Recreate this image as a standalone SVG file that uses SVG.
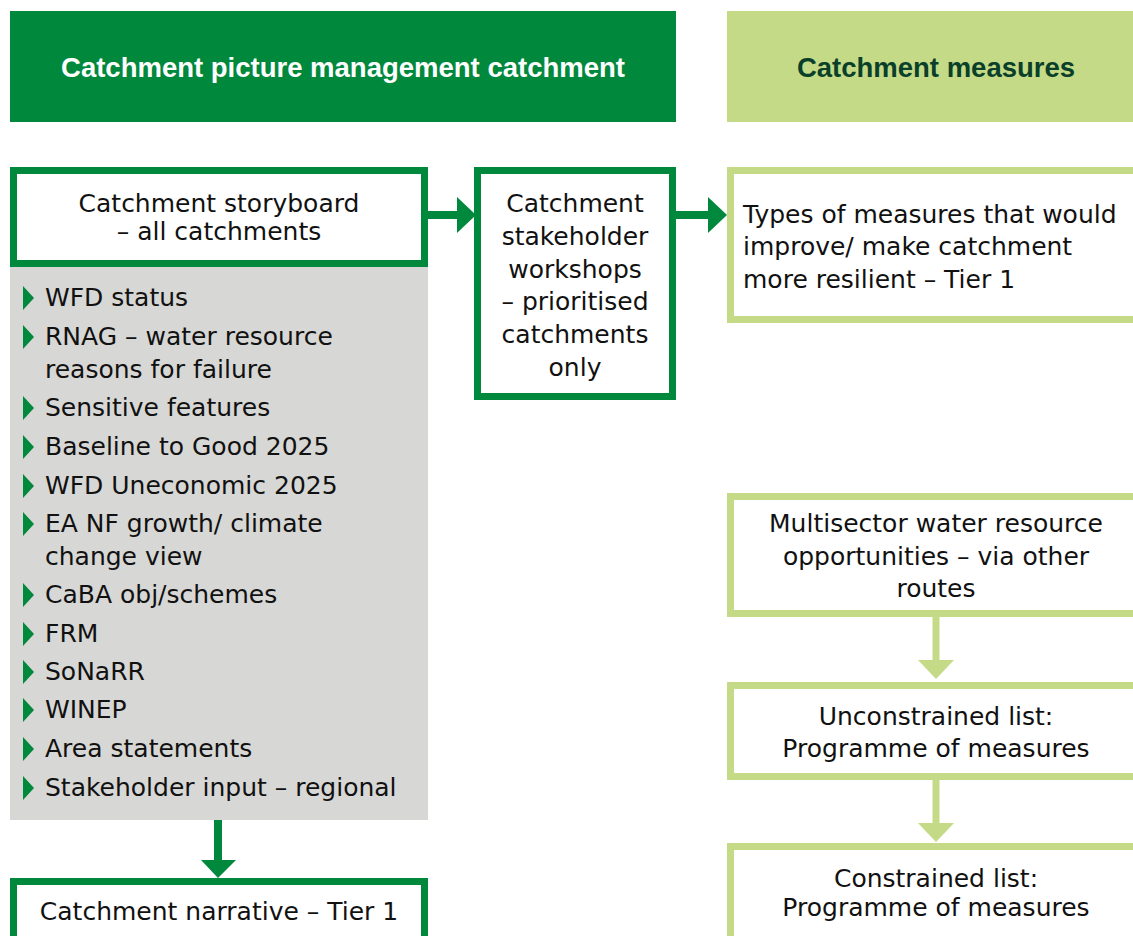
<svg xmlns="http://www.w3.org/2000/svg" width="1133" height="936" viewBox="0 0 1133 936">
<style>
.hdr{font-family:"Liberation Sans",Arial,sans-serif;font-weight:bold;font-size:27.5px;text-anchor:middle}
.t{font-family:"DejaVu Sans",sans-serif;font-size:25px;fill:#111}
.c{text-anchor:middle}
.dg{fill:none;stroke:#00893d;stroke-width:7}
.lg{fill:none;stroke:#c5da87;stroke-width:7}
.bul{fill:#00893d}
</style>
<rect width="1133" height="936" fill="#ffffff"/>
<g id="header-left">
<rect x="10" y="11" width="666" height="111" fill="#00893d"/>
<text class="hdr" x="343" y="77" fill="#ffffff">Catchment picture management catchment</text>
</g>
<g id="header-right">
<rect x="727" y="11" width="406" height="111" fill="#c5da87"/>
<text class="hdr" x="936" y="77" fill="#0a3f2a">Catchment measures</text>
</g>
<g id="storyboard">
<rect x="10" y="267" width="418" height="553" fill="#d7d7d5"/>
<rect class="dg" x="13.5" y="170.5" width="411" height="93" style="fill:#ffffff"/>
<text class="t c" x="219" y="212">Catchment storyboard</text>
<text class="t c" x="219" y="240">– all catchments</text>
<g class="bul">
<polygon points="23,286 34,298 23,310"/>
<polygon points="23,325 34,337 23,349"/>
<polygon points="23,396 34,408 23,420"/>
<polygon points="23,435 34,447 23,459"/>
<polygon points="23,474 34,486 23,498"/>
<polygon points="23,512 34,524 23,536"/>
<polygon points="23,583 34,595 23,607"/>
<polygon points="23,622 34,634 23,646"/>
<polygon points="23,660 34,672 23,684"/>
<polygon points="23,698 34,710 23,722"/>
<polygon points="23,737 34,749 23,761"/>
<polygon points="23,776 34,788 23,800"/>
</g>
<text class="t" x="45" y="306">WFD status</text>
<text class="t" x="45" y="345">RNAG – water resource</text>
<text class="t" x="45" y="378">reasons for failure</text>
<text class="t" x="45" y="416">Sensitive features</text>
<text class="t" x="45" y="455">Baseline to Good 2025</text>
<text class="t" x="45" y="494">WFD Uneconomic 2025</text>
<text class="t" x="45" y="532">EA NF growth/ climate</text>
<text class="t" x="45" y="565">change view</text>
<text class="t" x="45" y="603">CaBA obj/schemes</text>
<text class="t" x="45" y="642">FRM</text>
<text class="t" x="45" y="680">SoNaRR</text>
<text class="t" x="45" y="718">WINEP</text>
<text class="t" x="45" y="757">Area statements</text>
<text class="t" x="45" y="796">Stakeholder input – regional</text>
</g>
<g id="narrative">
<rect class="dg" x="13.5" y="881.5" width="411" height="70" style="fill:#ffffff"/>
<text class="t c" x="219" y="920">Catchment narrative – Tier 1</text>
</g>
<g id="workshops">
<rect class="dg" x="477.5" y="170.5" width="195" height="226" style="fill:#ffffff"/>
<text class="t c" x="575" y="212">Catchment</text>
<text class="t c" x="575" y="245">stakeholder</text>
<text class="t c" x="575" y="278">workshops</text>
<text class="t c" x="575" y="310">– prioritised</text>
<text class="t c" x="575" y="343">catchments</text>
<text class="t c" x="575" y="376">only</text>
</g>
<g id="types">
<rect class="lg" x="730.5" y="170.5" width="420" height="149" style="fill:#ffffff"/>
<text class="t" x="743" y="223">Types of measures that would</text>
<text class="t" x="743" y="255">improve/ make catchment</text>
<text class="t" x="743" y="288">more resilient – Tier 1</text>
</g>
<g id="multisector">
<rect class="lg" x="730.5" y="496.5" width="420" height="117" style="fill:#ffffff"/>
<text class="t c" x="936" y="532">Multisector water resource</text>
<text class="t c" x="936" y="565">opportunities – via other</text>
<text class="t c" x="936" y="597">routes</text>
</g>
<g id="unconstrained">
<rect class="lg" x="730.5" y="685.5" width="420" height="91" style="fill:#ffffff"/>
<text class="t c" x="936" y="725">Unconstrained list:</text>
<text class="t c" x="936" y="757">Programme of measures</text>
</g>
<g id="constrained">
<rect class="lg" x="730.5" y="846.5" width="420" height="100" style="fill:#ffffff"/>
<text class="t c" x="936" y="887">Constrained list:</text>
<text class="t c" x="936" y="916">Programme of measures</text>
</g>
<g id="connectors">
<line x1="428" y1="215" x2="459" y2="215" stroke="#00893d" stroke-width="8"/>
<polygon points="457,197 476,215 457,233" fill="#00893d"/>
<line x1="676" y1="215" x2="710" y2="215" stroke="#00893d" stroke-width="8"/>
<polygon points="708,197 727,215 708,233" fill="#00893d"/>
<line x1="218" y1="820" x2="218" y2="862" stroke="#00893d" stroke-width="8"/>
<polygon points="201,860 236,860 218,878" fill="#00893d"/>
<line x1="936" y1="617" x2="936" y2="662" stroke="#c5da87" stroke-width="7"/>
<polygon points="918,660 954,660 936,679" fill="#c5da87"/>
<line x1="936" y1="780" x2="936" y2="825" stroke="#c5da87" stroke-width="7"/>
<polygon points="918,823 954,823 936,842" fill="#c5da87"/>
</g>
</svg>
